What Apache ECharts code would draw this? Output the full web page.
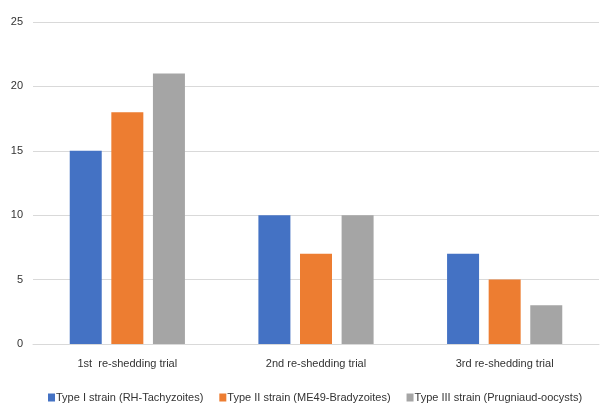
<!DOCTYPE html>
<html><head><meta charset="utf-8">
<script src="https://cdn.jsdelivr.net/npm/echarts@6/dist/echarts.min.js"></script>
<style>html,body{margin:0;padding:0;background:#fff}#c{width:605px;height:414px}</style>
</head><body><div id="c"></div>
<script>
var categories = ['1st  re-shedding trial', '2nd re-shedding trial', '3rd re-shedding trial'];
var seriesNames = ['Type I strain (RH-Tachyzoites)', 'Type II strain (ME49-Bradyzoites)', 'Type III strain (Prugniaud-oocysts)'];
var typeI = [15, 10, 7];
var typeII = [18, 7, 5];
var typeIII = [21, 10, 3];
var colors = ['#4472C4', '#ED7D31', '#A5A5A5'];
var font = '"Liberation Sans", sans-serif';
var chart = echarts.init(document.getElementById('c'));
chart.setOption({
  animation: false,
  color: colors,
  textStyle: {fontFamily: font},
  grid: {left: 33, right: 6, top: 22, bottom: 70},
  legend: {
    bottom: 6, left: 43, itemWidth: 7, itemHeight: 8, itemGap: 16,
    icon: 'rect',
    textStyle: {fontSize: 11, color: '#333333', fontFamily: font, padding: [0,0,0,-4]},
    data: seriesNames
  },
  xAxis: {
    type: 'category', data: categories,
    axisLine: {lineStyle: {color: '#d9d9d9'}},
    axisTick: {show: false},
    axisLabel: {color: '#333333', fontSize: 11, margin: 14, fontFamily: font}
  },
  yAxis: {
    type: 'value', min: 0, max: 25, interval: 5,
    axisLine: {show: false}, axisTick: {show: false},
    splitLine: {lineStyle: {color: '#d9d9d9'}},
    axisLabel: {color: '#333333', fontSize: 11, margin: 10, fontFamily: font}
  },
  series: [
    {name: seriesNames[0], type: 'bar', data: typeI, barWidth: 32, barGap: '30%'},
    {name: seriesNames[1], type: 'bar', data: typeII, barWidth: 32, barGap: '30%'},
    {name: seriesNames[2], type: 'bar', data: typeIII, barWidth: 32, barGap: '30%'}
  ]
});
</script></body></html>
